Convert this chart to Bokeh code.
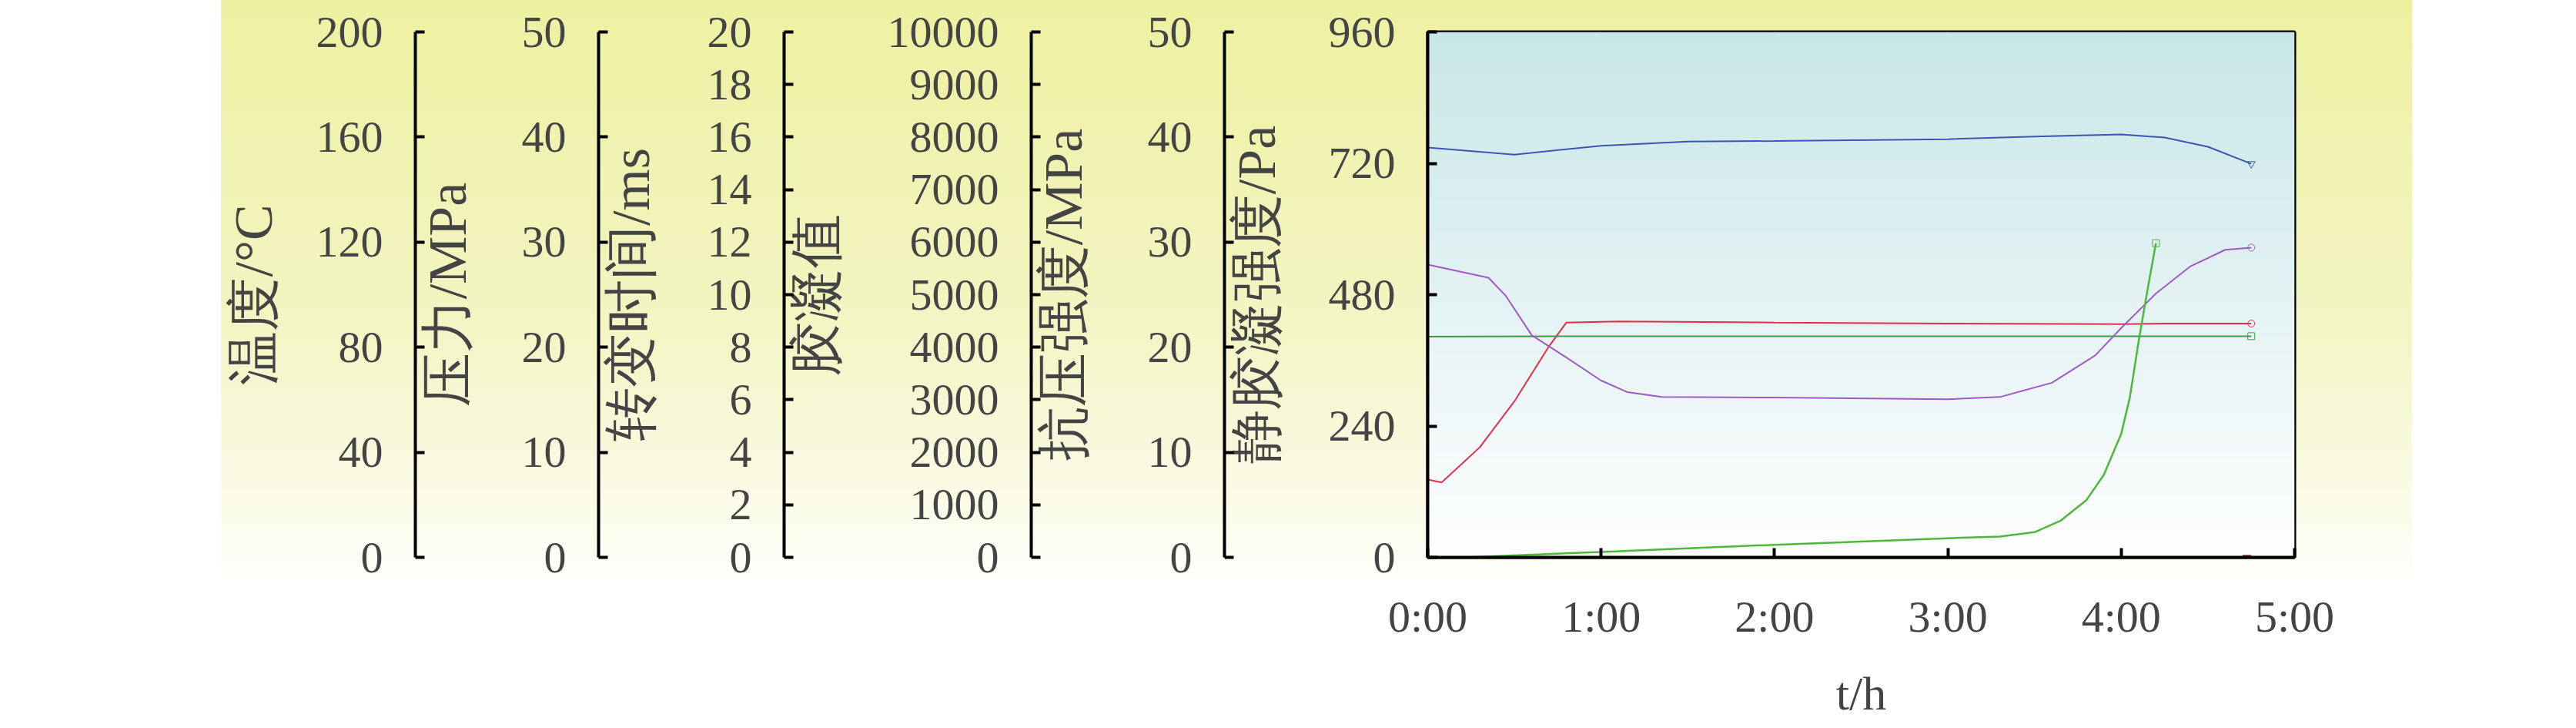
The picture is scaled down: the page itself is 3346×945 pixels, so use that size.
import numpy as np
from bokeh.plotting import figure
from bokeh.layouts import row
from bokeh.models import (LinearAxis, Range1d, FixedTicker, Spacer)
from bokeh.embed import file_html
from bokeh.resources import INLINE

# time in hours
t_blue = [0, 0.5, 1.0, 1.5, 2.0, 3.0, 3.5, 4.0, 4.25, 4.5, 4.75]
shift_ms = [15.6, 15.33, 15.67, 15.83, 15.85, 15.92, 16.02, 16.1, 15.98, 15.63, 14.98]

t_red = [0, 0.08, 0.3, 0.5, 0.7, 0.8, 1.1, 2.0, 3.0, 4.0, 4.25, 4.75]
temp_c = [29.6, 28.5, 41.9, 59.4, 80.4, 89.4, 89.8, 89.4, 89.0, 88.8, 89.0, 89.0]

t_press = [0, 0.75, 4.75]
press_mpa = [21.0, 21.05, 21.05]

t_gel = [0, 0.35, 0.45, 0.6, 0.8, 1.0, 1.15, 1.35, 2.0, 3.0, 3.3, 3.6, 3.85, 4.0, 4.2, 4.4, 4.6, 4.75]
gel_val = [5573, 5323, 4979, 4229, 3802, 3365, 3146, 3052, 3042, 3010, 3052, 3323, 3844, 4365, 5021, 5542, 5854, 5896]

t_sgs = [0.22, 1.0, 2.0, 3.0, 3.3, 3.5, 3.65, 3.8, 3.9, 4.0, 4.05, 4.1, 4.15, 4.2]
sgs_pa = [0, 10, 23, 35, 38, 46, 67, 105, 151, 226, 293, 394, 486, 574]

t_comp = [4.7, 4.75]
comp_mpa = [0.1, 0.1]

x_ticks = [0, 1, 2, 3, 4, 5]
x_labels = {0: "0:00", 1: "1:00", 2: "2:00", 3: "3:00", 4: "4:00", 5: "5:00"}

SERIF = "Liberation Serif"
TICK = "58px"
LAB = "70px"

p = figure(width=2846, height=936, x_range=(0, 5), y_range=(0, 960),
           output_backend="svg", toolbar_location=None,
           min_border_left=1557, min_border_top=41, min_border_bottom=158,
           min_border_right=153, border_fill_color=None,
           styles={"background": "linear-gradient(to bottom, #eef0a0 0%, #f3f5c4 45%, #fbfbe8 70%, #ffffff 82%)"})
p.outline_line_color = "black"
p.outline_line_width = 4

# frame gradient
n = 200
frac = np.linspace(0, 1, n)[:, None] * np.ones((1, 2))  # bottom -> top
top = (200, 230, 232)
r = (255 + (top[0] - 255) * frac).astype(np.uint32)
g = (255 + (top[1] - 255) * frac).astype(np.uint32)
b = (255 + (top[2] - 255) * frac).astype(np.uint32)
img = (np.uint32(255) << 24) | (b << 16) | (g << 8) | r
p.image_rgba(image=[img.astype(np.uint32)], x=0, y=0, dw=5, dh=960)

p.extra_y_ranges = {
    "comp": Range1d(0, 50), "gel": Range1d(0, 10000), "time": Range1d(0, 20),
    "press": Range1d(0, 50), "temp": Range1d(0, 200)}


def style_axis(ax, ticks, label, s):
    ax.ticker = FixedTicker(ticks=ticks)
    ax.axis_label = label
    ax.axis_label_text_font = SERIF
    ax.axis_label_text_font_size = LAB
    ax.axis_label_text_font_style = "normal"
    ax.axis_label_standoff = s
    ax.major_label_text_font = SERIF
    ax.major_label_text_font_size = TICK
    ax.major_label_standoff = 42
    ax.major_tick_in = 12
    ax.major_tick_out = 0
    ax.major_tick_line_width = 4
    ax.minor_tick_line_color = None
    ax.axis_line_width = 4
    ax.axis_line_color = "black"


style_axis(p.yaxis[0], [0, 240, 480, 720, 960], "静胶凝强度/Pa", 52)
for rng, ticks, label, s in [("comp", list(range(0, 51, 10)), "抗压强度/MPa", 68),
                             ("gel", list(range(0, 10001, 1000)), "胶凝值", 51),
                             ("time", list(range(0, 21, 2)), "转变时间/ms", 58),
                             ("press", list(range(0, 51, 10)), "压力/MPa", 55),
                             ("temp", list(range(0, 201, 40)), "温度/°C", 40)]:
    ax = LinearAxis(y_range_name=rng)
    style_axis(ax, ticks, label, s)
    p.add_layout(ax, "left")

xa = p.xaxis[0]
style_axis(xa, x_ticks, "t/h", 30)
xa.axis_label_text_font_size = "62px"
xa.major_label_overrides = x_labels
xa.major_label_standoff = 44

p.xgrid.ticker = FixedTicker(ticks=[1, 2, 3, 4])
p.ygrid.ticker = FixedTicker(ticks=[240, 480, 720])
for gr in (p.xgrid, p.ygrid):
    gr.grid_line_color = "#9aa0a0"
    gr.grid_line_dash = "2 2"
    gr.grid_line_width = 2

p.line(t_blue, shift_ms, y_range_name="time", color="#3a55b4", line_width=2)
p.scatter([t_blue[-1]], [shift_ms[-1]], y_range_name="time", marker="inverted_triangle",
          size=10, fill_color=None, line_color="#3a55b4")
p.line(t_red, temp_c, y_range_name="temp", color="#e0304a", line_width=2)
p.scatter([t_red[-1]], [temp_c[-1]], y_range_name="temp", marker="circle",
          size=9, fill_color=None, line_color="#e0304a")
p.line(t_press, press_mpa, y_range_name="press", color="#3f9a4a", line_width=2)
p.scatter([t_press[-1]], [press_mpa[-1]], y_range_name="press", marker="square",
          size=9, fill_color=None, line_color="#3f9a4a")
p.line(t_gel, gel_val, y_range_name="gel", color="#a05ac8", line_width=2)
p.scatter([t_gel[-1]], [gel_val[-1]], y_range_name="gel", marker="circle",
          size=9, fill_color=None, line_color="#a05ac8")
p.line(t_sgs, sgs_pa, color="#4db83a", line_width=2.5)
p.scatter([t_sgs[-1]], [sgs_pa[-1]], marker="square",
          size=9, fill_color=None, line_color="#4db83a")
p.line(t_comp, comp_mpa, y_range_name="comp", color="#8b3a2a", line_width=4)

layout = row(Spacer(width=287), p)
open("out.html", "w").write(file_html(layout, INLINE))
